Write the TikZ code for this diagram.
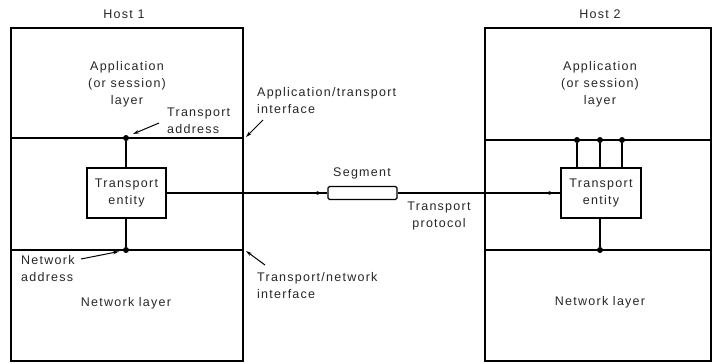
\documentclass[tikz,border=0pt]{standalone}
\usepackage{fontspec}
\setmainfont{Liberation Sans}[LetterSpace=10]
\usetikzlibrary{arrows.meta,decorations.markings}
\begin{document}
\begin{tikzpicture}[x=1pt,y=1pt,
  every node/.style={font=\fontsize{12.5}{17}\selectfont, text=black!85},
  hostbox/.style={draw, line width=1.3pt, inner sep=0pt, minimum height=333pt},
  entitybox/.style={draw, line width=1.3pt, fill=white, inner sep=0pt, minimum width=79pt, minimum height=50pt, align=center},
  segbox/.style={draw, line width=1.2pt, fill=white, rounded corners=1.5pt, inner sep=0pt, minimum width=69pt, minimum height=13pt},
  layerline/.style={line width=1.3pt},
  link/.style={line width=1.3pt},
  dot/.style={circle, fill=black, inner sep=0pt, minimum size=6pt},
  lbl/.style={align=left, inner sep=0pt},
  pointer/.style={line width=1pt, -{Stealth[length=6pt,width=3.5pt]}},
  tip/.style={-{Stealth[length=6pt,width=4pt]}}
]
\useasboundingbox (0,0) rectangle (712,-364);

% hosts
\node[hostbox, minimum width=232pt] (h1) at (127,-194.5) {};
\node[hostbox, minimum width=226pt] (h2) at (598,-194.5) {};
\node (host1) at (124,-14) {Host 1};
\node (host2) at (600,-14) {Host 2};

% layer boundaries
\coordinate (a1w) at (11,-138);  \coordinate (a1e) at (243,-138);
\coordinate (n1w) at (11,-250);  \coordinate (n1e) at (243,-250);
\coordinate (a2w) at (485,-140); \coordinate (a2e) at (711,-140);
\coordinate (n2w) at (485,-250); \coordinate (n2e) at (711,-250);
\draw[layerline] (a1w) -- (a1e);
\draw[layerline] (n1w) -- (n1e);
\draw[layerline] (a2w) -- (a2e);
\draw[layerline] (n2w) -- (n2e);

% layer names
\node[align=center] (app1) at (127,-84) {Application\\(or session)\\layer};
\node[align=center] (app2) at (600,-84) {Application\\(or session)\\layer};
\node (net1) at (126,-303) {Network layer};
\node (net2) at (600,-302) {Network layer};

% transport entities
\node[entitybox] (te1) at (126.5,-193) {Transport\\entity};
\node[entitybox, minimum width=80pt] (te2) at (601,-193) {Transport\\entity};

% service access points
\node[dot] (d1) at (126,-138) {};
\node[dot] (d2) at (126,-250) {};
\draw[link] (te1.north -| d1) -- (d1);
\draw[link] (te1.south -| d2) -- (d2);

\node[dot] (e1) at (577,-140) {};
\node[dot] (e2) at (600,-140) {};
\node[dot] (e3) at (622,-140) {};
\node[dot] (e4) at (600,-250) {};
\draw[link] (te2.north -| e1) -- (e1);
\draw[link] (te2.north -| e2) -- (e2);
\draw[link] (te2.north -| e3) -- (e3);
\draw[link] (te2.south -| e4) -- (e4);

% segment travelling between the entities
\node[segbox] (seg) at (362.5,-193) {};
\node (seglbl) at (362,-173) {Segment};
\node[align=center] (proto) at (439,-216) {Transport\\protocol};
\draw[link, decoration={markings, mark=at position -5pt with {\arrow{Stealth[length=6pt,width=4pt]}}}, postaction={decorate}] (te1.east) -- (seg.west);
\draw[link, decoration={markings, mark=at position -6pt with {\arrow{Stealth[length=6pt,width=4pt]}}}, postaction={decorate}] (seg.east) -- (te2.west);

% annotations
\node[lbl] (taddr) at (167,-120.5) [anchor=west] {Transport\\address};
\coordinate (taddrs) at (159,-123);
\coordinate (taddrt) at (133,-134);
\draw[pointer] (taddrs) -- (taddrt);

\node[lbl] (naddr) at (21,-269) [anchor=west] {Network\\address};
\coordinate (naddrs) at (81,-259);
\coordinate (naddrt) at (119,-251.5);
\draw[pointer] (naddrs) -- (naddrt);

\node[lbl] (ati) at (257,-100.5) [anchor=west] {Application/transport\\interface};
\coordinate (atis) at (263,-120);
\coordinate (atit) at (246,-137);
\draw[pointer] (atis) -- (atit);

\node[lbl] (tni) at (257,-285.5) [anchor=west] {Transport/network\\interface};
\coordinate (tnis) at (265,-265);
\coordinate (tnit) at (246,-251);
\draw[pointer] (tnis) -- (tnit);
\end{tikzpicture}
\end{document}
